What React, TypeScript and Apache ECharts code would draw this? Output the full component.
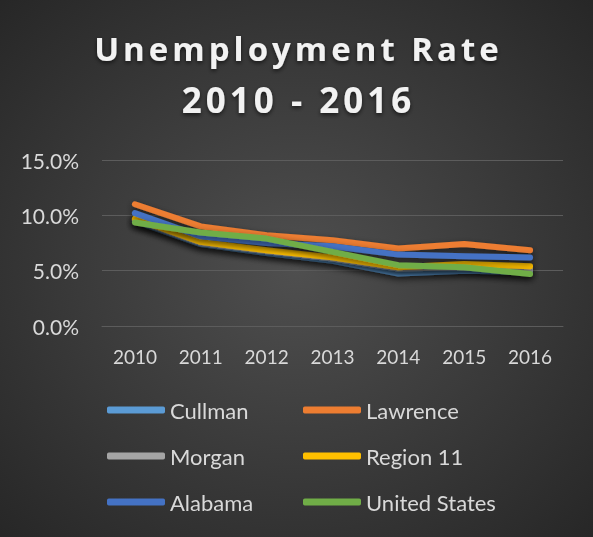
import React, { useEffect, useRef } from "react";
import * as echarts from "echarts";

const years = ["2010", "2011", "2012", "2013", "2014", "2015", "2016"];
const cullman = [9.5, 7.4, 6.6, 5.9, 4.75, 5.0, 4.9];
const lawrence = [11.0, 9.0, 8.2, 7.75, 7.0, 7.4, 6.85];
const morgan = [9.6, 7.5, 6.75, 6.1, 5.2, 5.3, 5.1];
const region11 = [9.7, 7.6, 6.85, 6.2, 5.3, 5.6, 5.4];
const alabama = [10.2, 8.1, 7.5, 7.2, 6.45, 6.3, 6.2];
const unitedStates = [9.35, 8.45, 7.9, 6.7, 5.5, 5.3, 4.7];

const titleLine1 = "Unemployment Rate";
const titleLine2 = "2010 - 2016";

const seriesNames = ["Cullman", "Lawrence", "Morgan", "Region 11", "Alabama", "United States"];
const seriesData = [cullman, lawrence, morgan, region11, alabama, unitedStates];
const colors = ["#5B9BD5", "#ED7D31", "#A5A5A5", "#FFC000", "#4472C4", "#70AD47"];

const FONT = "Lato, 'Open Sans', sans-serif";
const TITLE_FONT = "'Open Sans', Lato, sans-serif";

export default function App() {
  const ref = useRef<HTMLDivElement>(null);
  useEffect(() => {
    const chart = echarts.init(ref.current!, null, { renderer: "svg" });
    const legendCommon = {
      orient: "vertical",
      icon: "roundRect",
      itemWidth: 58,
      itemHeight: 7,
      itemGap: 24,
      textStyle: { color: "#d9d9d9", fontSize: 22, fontFamily: FONT, lineHeight: 22 },
      top: 394,
    };
    const titleShadow = {
      textShadowColor: "rgba(0,0,0,0.6)",
      textShadowBlur: 4,
      textShadowOffsetY: 2,
    };
    chart.setOption({
      animation: false,
      backgroundColor: {
        type: "radial",
        x: 0.5,
        y: 0.5,
        r: 0.72,
        colorStops: [
          { offset: 0, color: "#4f4f4f" },
          { offset: 1, color: "#262626" },
        ],
      },
      color: colors,
      title: {
        text: titleLine1,
        subtext: titleLine2,
        left: "center",
        top: 20,
        itemGap: 5,
        textStyle: {
          color: "#f2f2f2",
          fontSize: 33,
          fontWeight: "bold",
          fontFamily: TITLE_FONT,
          lineHeight: 46,
          ...titleShadow,
        },
        subtextStyle: {
          color: "#f2f2f2",
          fontSize: 35,
          fontWeight: "bold",
          fontFamily: TITLE_FONT,
          lineHeight: 46,
          ...titleShadow,
        },
      },
      legend: [
        { ...legendCommon, left: 102, data: ["Cullman", "Morgan", "Alabama"] },
        { ...legendCommon, left: 298, data: ["Lawrence", "Region 11", "United States"] },
      ],
      grid: { left: 102, right: 30, top: 160, bottom: 211, containLabel: false },
      xAxis: {
        type: "category",
        data: years,
        boundaryGap: true,
        axisLine: { show: true, lineStyle: { color: "#5c5c5c", width: 1 } },
        axisTick: { show: false },
        axisLabel: { color: "#d9d9d9", fontSize: 19, fontFamily: FONT, margin: 21 },
      },
      yAxis: {
        type: "value",
        min: 0,
        max: 15,
        interval: 5,
        axisLine: { show: false },
        axisTick: { show: false },
        splitLine: { lineStyle: { color: "#5c5c5c", width: 1 } },
        axisLabel: {
          color: "#d9d9d9",
          fontSize: 21,
          fontFamily: FONT,
          margin: 23,
          formatter: (v: number) => v.toFixed(1) + "%",
        },
      },
      series: seriesNames.map((name, i) => ({
        name,
        type: "line",
        data: seriesData[i],
        symbol: "none",
        lineStyle: {
          width: 6,
          color: colors[i],
          cap: "round",
          join: "round",
          shadowColor: "rgba(0,0,0,0.6)",
          shadowBlur: 7,
          shadowOffsetY: 3,
        },
        itemStyle: { color: colors[i] },
      })),
    });

    // widen the title's letter spacing, keeping it centred
    const spacing = 4;
    const texts = ref.current!.querySelectorAll("text");
    texts.forEach((t) => {
      const content = (t.textContent || "").trim();
      if (content !== titleLine1 && content !== titleLine2) return;
      const el = t as SVGTextElement;
      let before: DOMRect | null = null;
      try {
        before = el.getBBox() as unknown as DOMRect;
      } catch (e) {
        before = null;
      }
      el.style.letterSpacing = spacing + "px";
      if (before) {
        try {
          const after = el.getBBox();
          const shift = before.x + before.width / 2 - (after.x + (after.width - spacing) / 2);
          el.setAttribute("dx", String(shift));
        } catch (e) {
          /* ignore */
        }
      }
    });
    return () => chart.dispose();
  }, []);
  return <div ref={ref} style={{ width: 593, height: 537, position: "fixed", left: 0, top: 0 }} />;
}
